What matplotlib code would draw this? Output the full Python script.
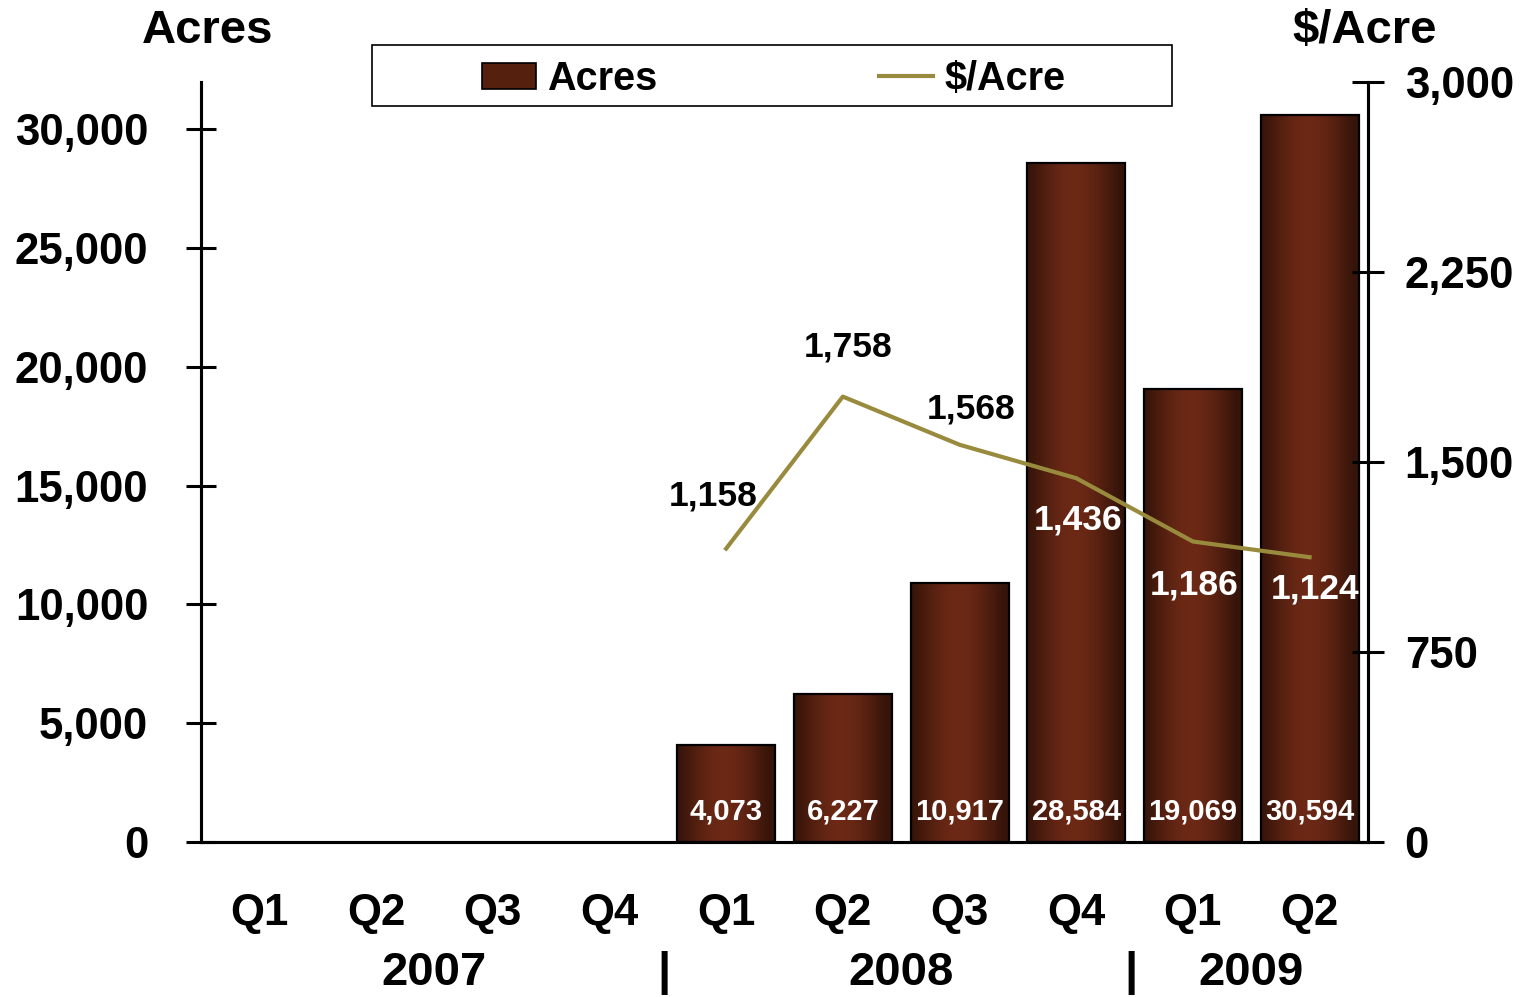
"""
Acres acquired per quarter with average $/Acre (2007 - Q2 2009).
Bars on the left axis, price line on the right axis.
"""

import numpy as np
import matplotlib
matplotlib.use("Agg")
import matplotlib.pyplot as plt
from matplotlib.patches import Rectangle

# Data
quarters = ["Q1", "Q2", "Q3", "Q4", "Q1", "Q2", "Q3", "Q4", "Q1", "Q2"]
years = ["2007", "2008", "2009"]
acres = [np.nan, np.nan, np.nan, np.nan, 4073, 6227, 10917, 28584, 19069, 30594]
price_per_acre = [np.nan, np.nan, np.nan, np.nan, 1158, 1758, 1568, 1436, 1186, 1124]

left_ticks = [0, 5000, 10000, 15000, 20000, 25000, 30000]
right_ticks = [0, 750, 1500, 2250, 3000]

FONT = "Liberation Sans"
EDGE_DARK = np.array([0x36, 0x14, 0x0a]) / 255
CENTER_LIGHT = np.array([0x6c, 0x29, 0x15]) / 255
LINE_COLOR = "#998b3e"

plt.rcParams["font.family"] = [FONT, "DejaVu Sans"]
plt.rcParams["font.weight"] = "bold"


def gradient_image():
    """Horizontal dark-light-dark strip used to fill each bar."""
    t = np.linspace(0, 1, 200)
    w = np.sin(np.pi * np.clip(t * 1.05, 0, 1)) ** 1.2
    img = EDGE_DARK[None, :] * (1 - w[:, None]) + CENTER_LIGHT[None, :] * w[:, None]
    return img[None, :, :]


fig = plt.figure(figsize=(15.24, 9.97), dpi=100)
ax = fig.add_axes([0.1319, 0.1555, 0.7657, 0.7623])
ax2 = ax.twinx()

x = np.arange(len(quarters))

# Bars with a gradient fill clipped to each rectangle
bars = ax.bar(x, acres, width=0.84, color="none", edgecolor="black",
              linewidth=1.6, zorder=3)
grad = gradient_image()
for rect, val in zip(bars, acres):
    if np.isnan(val):
        continue
    x0 = rect.get_x()
    im = ax.imshow(grad, extent=[x0, x0 + rect.get_width(), 0, val],
                   aspect="auto", zorder=2, interpolation="bilinear")
    im.set_clip_path(rect)
    ax.text(rect.get_x() + rect.get_width() / 2, 1270, f"{val:,.0f}",
            color="white", fontsize=21, fontweight="bold",
            ha="center", va="center", zorder=5)

ax.set_xlim(-0.5, len(quarters) - 0.5)
ax.set_ylim(0, 32000)
ax.set_yticks(left_ticks)
ax.set_yticklabels([f"{v:,}" for v in left_ticks])
ax.set_xticks(x)
ax.set_xticklabels(quarters)

# Price line on right axis
ax2.plot(x, price_per_acre, color=LINE_COLOR, linewidth=3, zorder=4)
ax2.set_ylim(0, 3000)
ax2.set_yticks(right_ticks)
ax2.set_yticklabels([f"{v:,}" for v in right_ticks])

# Price labels (offsets in points)
label_offsets = {4: (-9, 38), 5: (4, 36), 6: (8, 26), 7: (1, -30), 8: (1, -31), 9: (4, -23)}
label_colors = {4: "black", 5: "black", 6: "black", 7: "white", 8: "white", 9: "white"}
for i, off in label_offsets.items():
    ax2.annotate(f"{price_per_acre[i]:,}", (x[i], price_per_acre[i]),
                 xytext=off, textcoords="offset points", ha="center", va="center",
                 fontsize=25.5, fontweight="bold", color=label_colors[i], zorder=6)

# Spines and ticks
for a in (ax, ax2):
    a.spines["top"].set_visible(False)
    a.spines["left"].set_linewidth(2.2)
    a.spines["right"].set_linewidth(2.2)
    a.spines["bottom"].set_linewidth(2.2)
ax.tick_params(axis="y", direction="inout", length=22, width=2.2, pad=27,
               labelsize=31.5)
ax.tick_params(axis="x", length=0, pad=37, labelsize=31.5)
ax2.tick_params(axis="y", direction="inout", length=23, width=2.2, pad=15,
                labelsize=31.5)

# Year labels and separators under the quarter labels
year_centers = [1.5, 5.5, 8.5]
for xc, yr in zip(year_centers, years):
    ax.text(xc, -0.173, yr, transform=ax.get_xaxis_transform(),
            ha="center", va="center", fontsize=34, fontweight="bold")
for xs in [3.5, 7.5]:
    ax.text(xs - 0.03, -0.173, "|", transform=ax.get_xaxis_transform(),
            ha="center", va="center", fontsize=34, fontweight="bold")

# Axis titles
fig.text(208 / 1524, 1 - 31 / 997, "Acres", ha="center", va="center",
         fontsize=34, fontweight="bold")
fig.text(1365 / 1524, 1 - 31 / 997, "$/Acre", ha="center", va="center",
         fontsize=34, fontweight="bold")

# Legend: frame drawn separately so it can be wider than its contents
fig.patches.append(Rectangle((372 / 1524, 1 - 106 / 997), 800 / 1524, 61 / 997,
                             transform=fig.transFigure, facecolor="white",
                             edgecolor="black", linewidth=1.2, zorder=1))
handles = [Rectangle((0, 0), 1, 1, facecolor="#56200f", edgecolor="black", linewidth=1.2),
           plt.Line2D([0], [0], color=LINE_COLOR, linewidth=3)]
leg = fig.legend(handles, ["Acres", "$/Acre"], loc="center",
                 bbox_to_anchor=(774 / 1524, 1 - 79 / 997), ncol=2, frameon=False,
                 fontsize=28.5, handlelength=1.35, handleheight=0.65,
                 handletextpad=0.3, columnspacing=5.6)
leg.set_zorder(2)

fig.savefig("out.png", dpi=100)
